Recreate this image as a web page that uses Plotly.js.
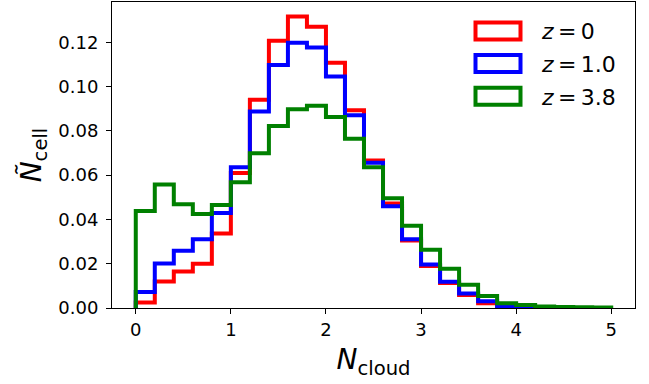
<!DOCTYPE html>
<html>
<head>
<meta charset="utf-8">
<script src="https://cdn.plot.ly/plotly-3.0.1.min.js"></script>
<style>
  html, body { margin: 0; padding: 0; background: #fff; }
  #chart { width: 649px; height: 384px; }
</style>
</head>
<body>
<div id="chart"></div>
<script>
// ---- data ----
const binEdges = [0.0, 0.2, 0.4, 0.6, 0.8, 1.0, 1.2, 1.4, 1.6, 1.8, 2.0, 2.2, 2.4,
                  2.6, 2.8, 3.0, 3.2, 3.4, 3.6, 3.8, 4.0, 4.2, 4.4, 4.6, 4.8, 5.0];

const seriesNames = ["z = 0", "z = 1.0", "z = 3.8"];
const seriesLabels = ["<i>z</i>\u2009=\u20090", "<i>z</i>\u2009=\u20091.0", "<i>z</i>\u2009=\u20093.8"];
const seriesColors = ["#ff0000", "#0000ff", "#008000"];

const z0 = [0.0025, 0.0120, 0.0165, 0.0200, 0.0337, 0.0610, 0.0940, 0.1207, 0.1316, 0.1270,
            0.1108, 0.0893, 0.0666, 0.0472, 0.0305, 0.0190, 0.0113, 0.0059, 0.0022, 0.0006,
            0.0003, 0.0001, 0.0001, 0.0000, 0.0000];
const z1 = [0.0072, 0.0201, 0.0259, 0.0311, 0.0429, 0.0636, 0.0887, 0.1098, 0.1198, 0.1177,
            0.1045, 0.0870, 0.0656, 0.0460, 0.0310, 0.0197, 0.0119, 0.0066, 0.0030, 0.0006,
            0.0003, 0.0001, 0.0001, 0.0000, 0.0000];
const z38 = [0.0438, 0.0558, 0.0469, 0.0425, 0.0465, 0.0568, 0.0699, 0.0822, 0.0898, 0.0913,
             0.0863, 0.0764, 0.0636, 0.0496, 0.0371, 0.0263, 0.0177, 0.0105, 0.0054, 0.0021,
             0.0013, 0.0007, 0.0004, 0.0003, 0.0002];

const xTickVals = [0, 1, 2, 3, 4, 5];
const yTickVals = [0.00, 0.02, 0.04, 0.06, 0.08, 0.10, 0.12];

// ---- build step outlines (like histtype='step') ----
function stepTrace(values, color, name) {
  const xs = [binEdges[0]];
  const ys = [0];
  for (let i = 0; i < values.length; i++) {
    xs.push(binEdges[i]);
    ys.push(values[i]);
  }
  xs.push(binEdges[binEdges.length - 1]); ys.push(values[values.length - 1]);
  xs.push(binEdges[binEdges.length - 1]); ys.push(0);
  return {
    type: 'scatter', mode: 'lines', x: xs, y: ys, name: name,
    line: { color: color, width: 4, shape: 'hv' },
    showlegend: false, hoverinfo: 'skip'
  };
}

const allSeries = [z0, z1, z38];
const traces = allSeries.map((v, i) => stepTrace(v, seriesColors[i], seriesNames[i]));

// ---- manual legend (outlined patches like matplotlib) ----
const W = 649, H = 384;
const M = { l: 112, r: 14, t: 2, b: 76 };
const pw = W - M.l - M.r, ph = H - M.t - M.b;
const px2x = X => (X - M.l) / pw;
const px2y = Y => (H - M.b - Y) / ph;

const legendRowY = [31, 63.6, 96.3];
const shapes = [];
const annotations = [];
seriesNames.forEach((n, i) => {
  const cy = legendRowY[i];
  shapes.push({
    type: 'rect', xref: 'paper', yref: 'paper',
    x0: px2x(475.5), x1: px2x(520.5), y0: px2y(cy - 8.5), y1: px2y(cy + 8.5),
    line: { color: seriesColors[i], width: 4 }, fillcolor: 'rgba(0,0,0,0)'
  });
  annotations.push({
    xref: 'paper', yref: 'paper', x: px2x(539), y: px2y(cy + 1),
    xanchor: 'left', yanchor: 'middle', showarrow: false,
    text: seriesLabels[i],
    font: { family: 'DejaVu Sans', size: 22, color: '#000' }
  });
});

const layout = {
  width: W, height: H,
  margin: M,
  paper_bgcolor: '#fff', plot_bgcolor: '#fff',
  font: { family: 'DejaVu Sans', color: '#000' },
  showlegend: false,
  xaxis: {
    range: [-0.25, 5.25],
    tickvals: xTickVals, ticktext: xTickVals.map(String),
    ticks: 'outside', ticklen: 5, tickwidth: 1, tickcolor: '#000',
    tickfont: { family: 'DejaVu Sans', size: 18, color: '#000' },
    showgrid: false, zeroline: false,
    showline: true, linecolor: '#000', linewidth: 1, mirror: true,
    title: { text: '<i>N</i><sub>cloud</sub>', font: { family: 'DejaVu Sans', size: 28, color: '#000' }, standoff: 10 }
  },
  yaxis: {
    range: [0, 0.1382],
    tickvals: yTickVals, ticktext: yTickVals.map(v => v.toFixed(2)),
    ticks: 'outside', ticklen: 5, tickwidth: 1, tickcolor: '#000',
    ticklabelstandoff: 4,
    tickfont: { family: 'DejaVu Sans', size: 18, color: '#000' },
    showgrid: false, zeroline: false,
    showline: true, linecolor: '#000', linewidth: 1, mirror: true,
    title: { text: '<i>Ñ</i><sub>cell</sub>', font: { family: 'DejaVu Sans', size: 28, color: '#000' }, standoff: 8 }
  },
  shapes: shapes,
  annotations: annotations
};

Plotly.newPlot('chart', traces, layout, { displayModeBar: false, staticPlot: true });
</script>
</body>
</html>
